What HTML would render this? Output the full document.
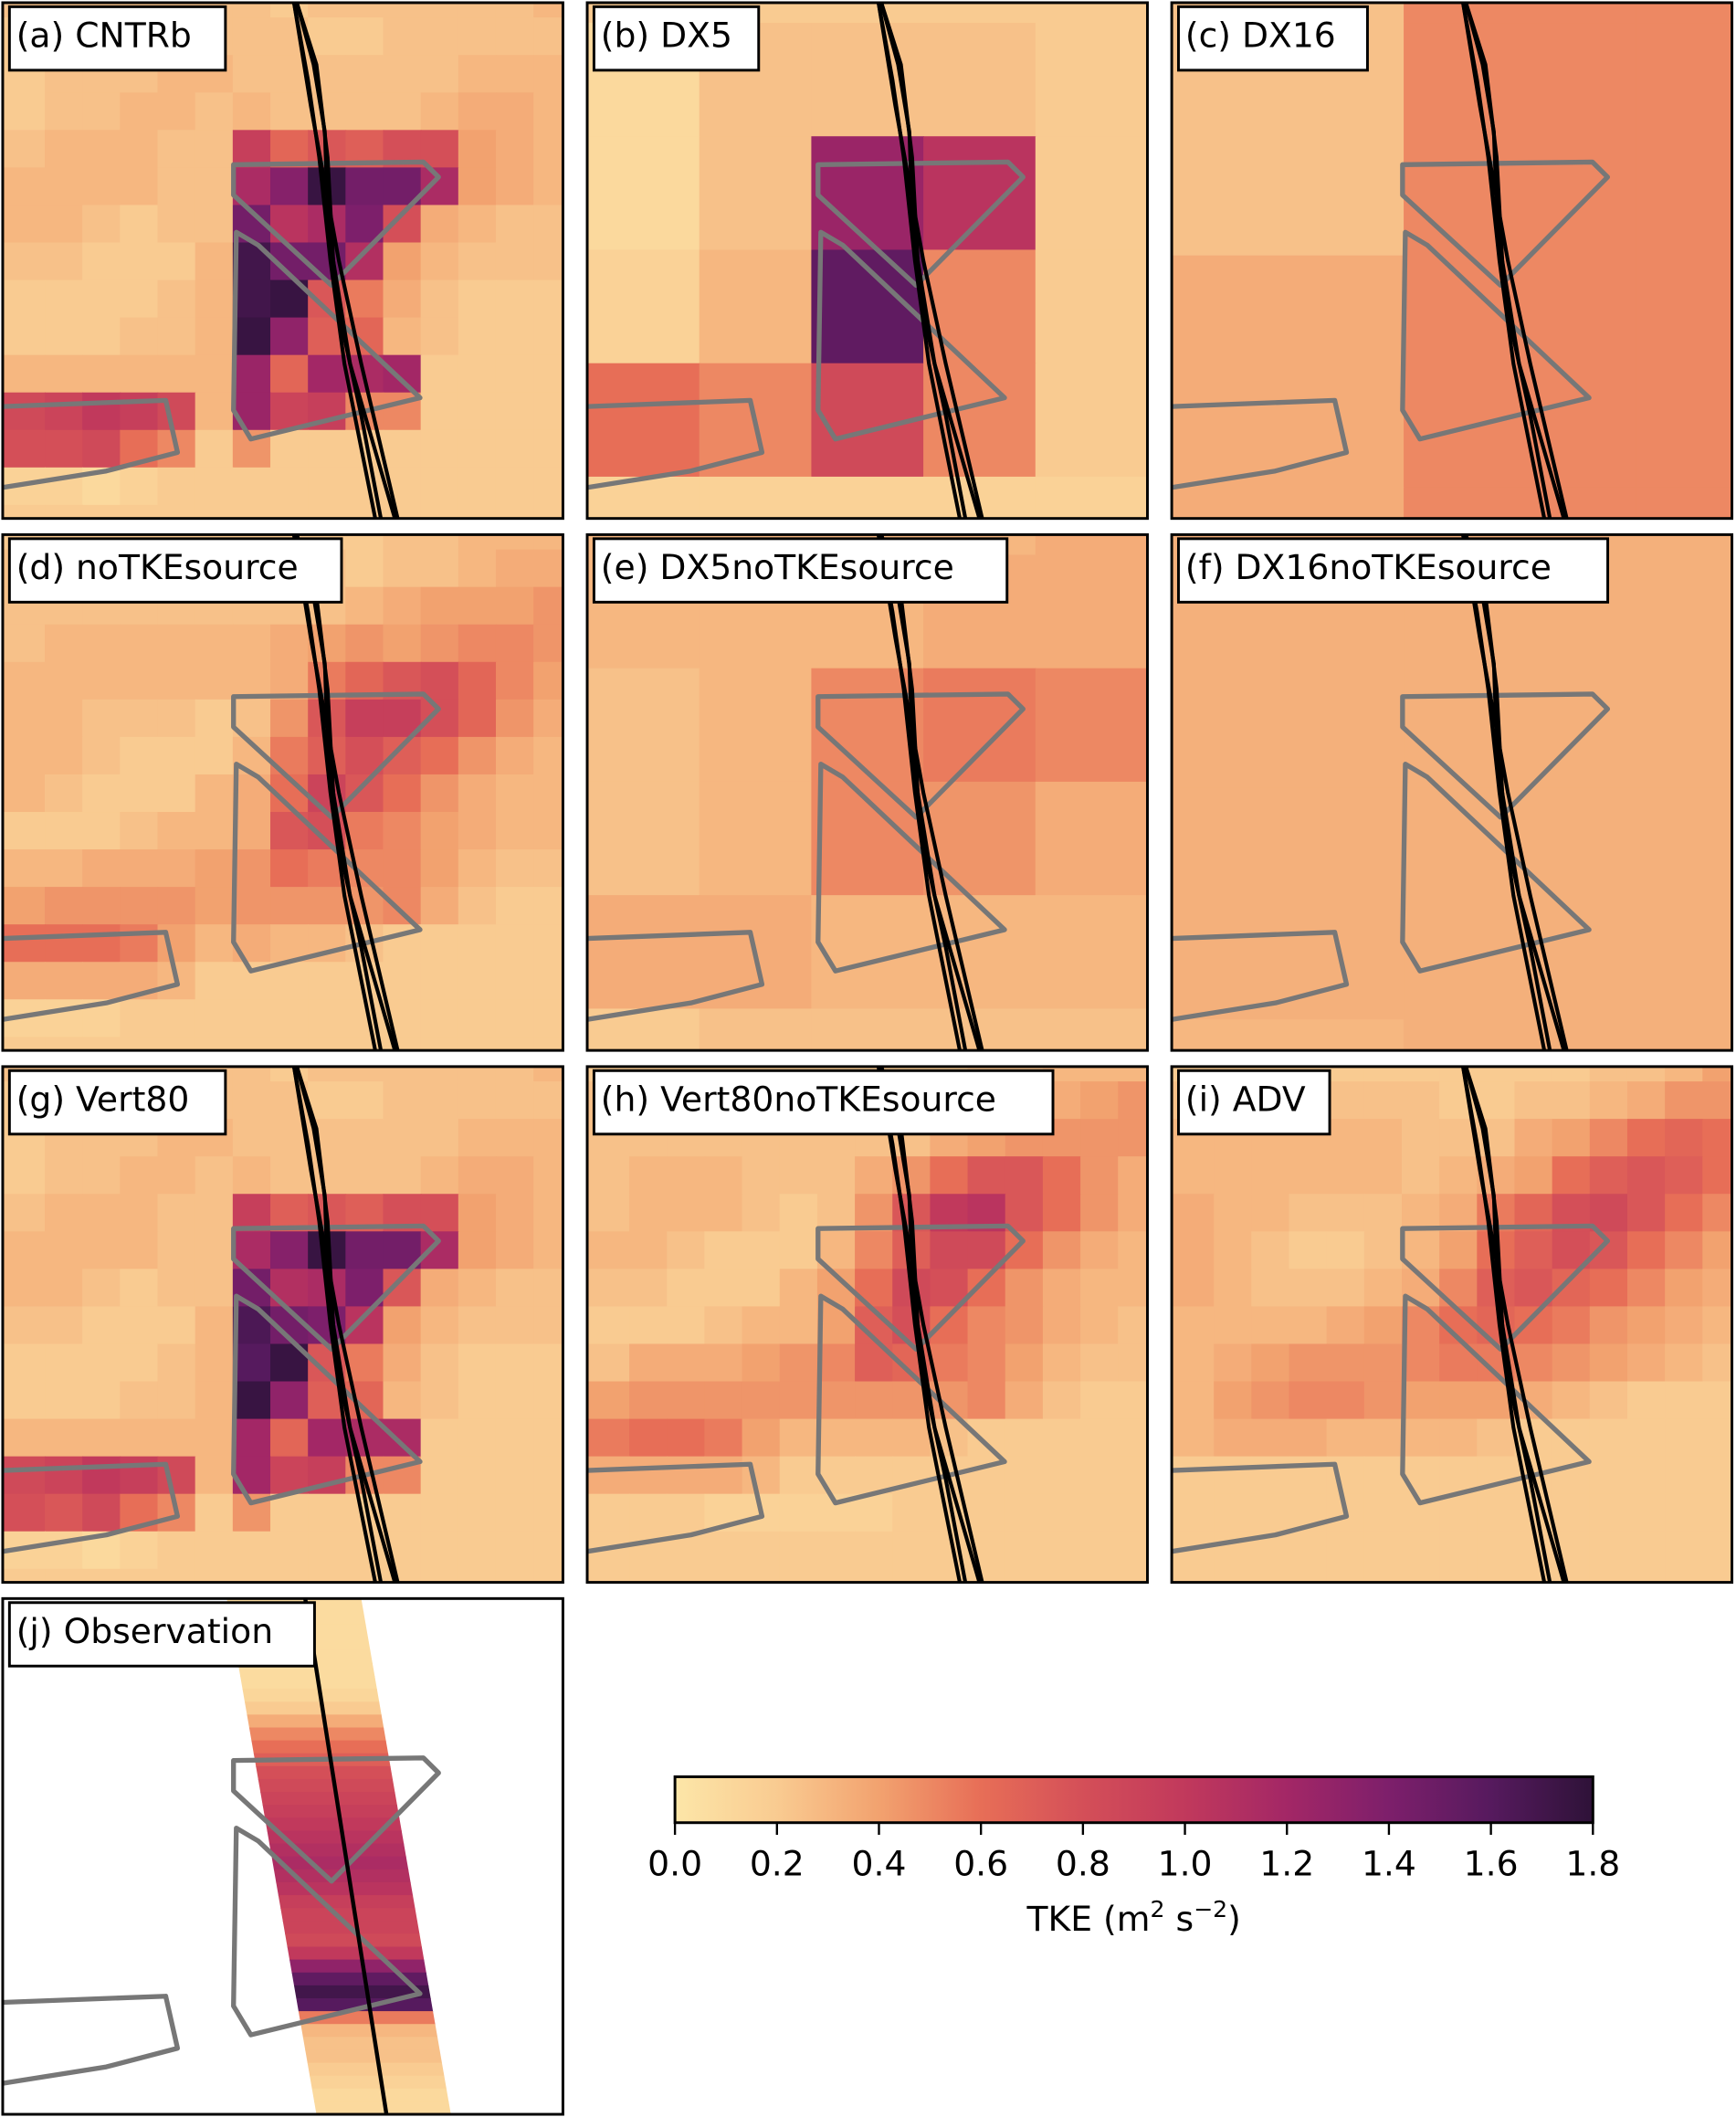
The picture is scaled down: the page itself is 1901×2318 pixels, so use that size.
<!DOCTYPE html>
<html><head><meta charset="utf-8">
<style>
html,body{margin:0;padding:0;background:#fff;}
svg{display:block;}
text{font-family:"DejaVu Sans","Liberation Sans",sans-serif;}
</style></head>
<body>
<svg id="fig" xmlns="http://www.w3.org/2000/svg" width="1901" height="2318" viewBox="0 0 1286 1568" preserveAspectRatio="none">
<defs id="defs"></defs>
<g id="panels"></g>
<g id="cbar"></g>
</svg>
<script>
// colormap
const cmapVals = [0, 0.2, 0.4, 0.6, 0.8, 1.0, 1.2, 1.4, 1.6, 1.8];
const cmapColors = ["#fce6a8","#f9cb91","#f2a26f","#e76e57","#d44f58","#c1395c","#a32766","#7d1f6b","#561a5e","#2e1238"];
const cbarTicks = [0, 0.2, 0.4, 0.6, 0.8, 1.0, 1.2, 1.4, 1.6, 1.8];
const cbarTickLabels = ["0.0","0.2","0.4","0.6","0.8","1.0","1.2","1.4","1.6","1.8"];

// TKE grids (rows top->bottom)
const gridA = [
[.25,.25,.25,.25,.25,.25,.25,.2,.25,.25,.25,.25,.25,.25,.3],
[.2,.25,.25,.25,.3,.25,.25,.25,.2,.2,.25,.25,.25,.25,.25],
[.2,.25,.25,.25,.3,.3,.25,.25,.25,.25,.25,.25,.3,.3,.3],
[.2,.25,.25,.3,.3,.25,.3,.25,.25,.25,.25,.3,.35,.35,.3],
[.25,.3,.3,.3,.25,.25,.95,.65,.75,.7,.8,.8,.4,.35,.3],
[.3,.3,.3,.3,.25,.25,1.15,1.35,1.75,1.45,1.45,1.15,.4,.35,.3],
[.3,.3,.25,.2,.25,.25,1.45,1.05,1.15,1.4,.8,.35,.3,.25,.25],
[.25,.25,.2,.2,.2,.3,1.7,1.45,1.45,1.1,.4,.3,.25,.25,.25],
[.2,.2,.2,.2,.25,.3,1.7,1.75,.75,.55,.35,.25,.2,.2,.2],
[.2,.2,.2,.25,.25,.3,1.75,1.3,.7,.65,.3,.25,.2,.2,.2],
[.3,.3,.3,.3,.3,.3,1.25,.65,1.2,1.15,1.2,.2,.2,.2,.2],
[.85,.9,1.0,.95,.85,.3,1.25,.9,.95,.5,.5,.2,.2,.2,.2],
[.8,.8,.85,.6,.5,.2,.45,.2,.2,.2,.2,.2,.2,.2,.2],
[.15,.15,.1,.15,.2,.2,.2,.2,.2,.2,.2,.2,.2,.2,.2],
[.2,.2,.2,.2,.2,.2,.2,.2,.2,.2,.2,.2,.2,.2,.2]];
const gridG = [
[.25,.25,.25,.25,.25,.25,.25,.2,.25,.25,.25,.25,.25,.25,.3],
[.2,.25,.25,.25,.3,.25,.25,.25,.2,.2,.25,.25,.25,.25,.25],
[.2,.25,.25,.25,.3,.3,.25,.25,.25,.25,.25,.25,.3,.3,.3],
[.2,.25,.25,.3,.3,.25,.3,.25,.25,.25,.25,.3,.35,.35,.3],
[.25,.3,.3,.3,.25,.25,.95,.7,.75,.7,.8,.8,.4,.35,.3],
[.3,.3,.3,.3,.25,.25,1.15,1.35,1.75,1.45,1.45,1.15,.4,.35,.3],
[.3,.3,.25,.2,.25,.25,1.45,1.1,1.15,1.4,.75,.35,.3,.25,.25],
[.25,.25,.2,.2,.2,.3,1.65,1.45,1.4,1.05,.4,.3,.25,.25,.25],
[.2,.2,.2,.2,.25,.3,1.6,1.75,.75,.55,.35,.25,.2,.2,.2],
[.2,.2,.2,.25,.25,.3,1.75,1.3,.7,.65,.3,.25,.2,.2,.2],
[.3,.3,.3,.3,.3,.3,1.2,.65,1.2,1.15,1.15,.2,.2,.2,.2],
[.85,.9,1.0,.95,.85,.3,1.2,.9,.95,.5,.5,.2,.2,.2,.2],
[.8,.75,.85,.6,.5,.2,.45,.2,.2,.2,.2,.2,.2,.2,.2],
[.15,.15,.1,.15,.2,.2,.2,.2,.2,.2,.2,.2,.2,.2,.2],
[.2,.2,.2,.2,.2,.2,.2,.2,.2,.2,.2,.2,.2,.2,.2]];
const gridD = [
[.2,.2,.2,.2,.2,.2,.2,.2,.2,.2,.25,.25,.3,.3,.3],
[.25,.2,.2,.2,.2,.2,.2,.25,.25,.2,.25,.25,.3,.35,.35],
[.25,.25,.25,.25,.25,.25,.25,.25,.25,.3,.35,.4,.4,.4,.45],
[.25,.3,.3,.3,.3,.3,.3,.35,.4,.45,.4,.45,.5,.5,.45],
[.3,.3,.3,.3,.3,.3,.3,.35,.55,.65,.75,.8,.65,.5,.4],
[.3,.3,.25,.25,.25,.2,.25,.45,.75,.95,.95,.8,.65,.45,.35],
[.3,.3,.25,.2,.2,.2,.3,.55,.7,.8,.7,.6,.45,.35,.3],
[.3,.25,.2,.2,.2,.3,.35,.6,.9,.75,.6,.45,.35,.3,.3],
[.2,.2,.2,.25,.3,.3,.35,.75,.8,.55,.5,.4,.35,.3,.3],
[.3,.3,.35,.35,.35,.4,.45,.6,.55,.5,.5,.4,.3,.25,.25],
[.4,.45,.45,.45,.45,.4,.45,.45,.45,.45,.5,.35,.25,.2,.2],
[.6,.6,.6,.55,.4,.3,.35,.3,.3,.25,.2,.2,.2,.2,.2],
[.35,.35,.35,.35,.3,.2,.2,.2,.2,.2,.2,.2,.2,.2,.2],
[.15,.15,.15,.2,.2,.2,.2,.2,.2,.2,.2,.2,.2,.2,.2],
[.2,.2,.2,.2,.2,.2,.2,.2,.2,.2,.2,.2,.2,.2,.2]];
const gridH = [
[.2,.2,.2,.2,.2,.2,.2,.2,.2,.2,.25,.25,.3,.3,.3],
[.25,.25,.25,.25,.2,.2,.25,.25,.25,.25,.3,.3,.35,.4,.45],
[.25,.25,.25,.25,.25,.25,.25,.25,.25,.35,.4,.45,.45,.45,.45],
[.25,.3,.3,.3,.25,.25,.25,.35,.45,.6,.75,.75,.6,.45,.35],
[.25,.3,.3,.3,.25,.2,.25,.45,.75,1.0,1.05,.75,.6,.45,.35],
[.3,.3,.25,.2,.2,.2,.3,.5,.7,.85,.85,.6,.45,.35,.3],
[.25,.25,.2,.2,.2,.3,.4,.6,.85,.8,.6,.45,.35,.3,.3],
[.2,.2,.2,.25,.3,.3,.4,.7,.8,.6,.5,.45,.35,.3,.25],
[.25,.35,.35,.35,.4,.45,.5,.7,.65,.55,.5,.4,.3,.25,.25],
[.4,.45,.45,.45,.45,.45,.45,.45,.45,.45,.5,.35,.25,.2,.2],
[.55,.6,.6,.55,.4,.3,.3,.3,.3,.25,.2,.2,.2,.2,.2],
[.35,.35,.35,.35,.3,.2,.2,.2,.2,.2,.2,.2,.2,.2,.2],
[.2,.2,.2,.15,.15,.15,.15,.15,.2,.2,.2,.2,.2,.2,.2],
[.2,.2,.2,.2,.2,.2,.2,.2,.2,.2,.2,.2,.2,.2,.2],
[.2,.2,.2,.2,.2,.2,.2,.2,.2,.2,.2,.2,.2,.2,.2]];
const gridI = [
[.2,.2,.2,.2,.2,.2,.2,.2,.2,.2,.2,.25,.25,.3,.4],
[.25,.25,.25,.25,.25,.25,.25,.2,.2,.25,.25,.3,.35,.45,.45],
[.3,.3,.3,.3,.3,.3,.25,.25,.25,.35,.4,.5,.6,.65,.6],
[.3,.3,.3,.3,.3,.3,.25,.3,.35,.4,.6,.7,.75,.7,.6],
[.35,.3,.3,.25,.25,.25,.3,.35,.55,.65,.8,.85,.75,.6,.5],
[.35,.3,.25,.2,.2,.25,.3,.4,.6,.7,.8,.75,.6,.5,.4],
[.35,.3,.25,.25,.25,.3,.35,.5,.7,.75,.65,.6,.5,.4,.35],
[.3,.3,.3,.3,.35,.4,.5,.6,.65,.6,.55,.45,.4,.35,.3],
[.3,.35,.4,.45,.45,.45,.5,.55,.55,.5,.45,.4,.35,.3,.25],
[.3,.4,.45,.5,.5,.45,.4,.4,.4,.35,.3,.25,.2,.2,.2],
[.3,.35,.35,.35,.3,.3,.3,.3,.25,.2,.2,.2,.2,.2,.2],
[.2,.2,.2,.2,.2,.2,.2,.2,.2,.2,.2,.2,.2,.2,.2],
[.2,.2,.2,.2,.2,.2,.2,.2,.2,.2,.2,.2,.2,.2,.2],
[.2,.2,.2,.2,.2,.2,.2,.2,.2,.2,.2,.2,.2,.2,.2],
[.2,.2,.2,.2,.2,.2,.2,.2,.2,.2,.2,.2,.2,.2,.2]];
const gridB = [
[.2,.2,.2,.2,.2],
[.1,.25,.25,.25,.2],
[.1,.25,1.25,1.05,.2],
[.15,.3,1.55,.5,.2],
[.6,.5,.85,.5,.2],
[.15,.15,.15,.15,.15]];
const gridE = [
[.3,.3,.3,.3,.35],
[.3,.3,.3,.35,.35],
[.25,.3,.5,.55,.5],
[.25,.3,.5,.45,.35],
[.35,.35,.3,.3,.3],
[.2,.25,.25,.25,.25]];
const gridC = [
[.25,.5,.5],
[.25,.5,.5],
[.35,.5,.5],
[.35,.5,.5]];
const gridF = [
[.33,.33,.33],
[.33,.33,.33],
[.33,.33,.33],
[.3,.33,.33]];
// observation transect values (top -> bottom stripes)
const obsVals = [.08,.08,.08,.08,.08,.08,.08,.12,.2,.35,.5,.6,.7,.8,.85,.9,.95,1.0,1.05,1.1,1.15,1.1,1.05,.95,.9,.9,.85,1.0,1.3,1.55,1.7,1.6,.55,.3,.25,.25,.2,.15,.1,.1];

const NS = "http://www.w3.org/2000/svg";
const PW = 415, PH = 382;
function hex(c){return [parseInt(c.slice(1,3),16),parseInt(c.slice(3,5),16),parseInt(c.slice(5,7),16)];}
function color(v){
  v=Math.max(cmapVals[0],Math.min(cmapVals[cmapVals.length-1],v));
  for(let i=0;i<cmapVals.length-1;i++){
    if(v<=cmapVals[i+1]){
      const t=(v-cmapVals[i])/(cmapVals[i+1]-cmapVals[i]);
      const a=hex(cmapColors[i]),b=hex(cmapColors[i+1]);
      return "rgb("+a.map((x,k)=>Math.round(x+(b[k]-x)*t)).join(",")+")";
    }
  }
  return cmapColors[cmapColors.length-1];
}
function el(tag,attrs,parent){const e=document.createElementNS(NS,tag);for(const k in attrs)e.setAttribute(k,attrs[k]);if(parent)parent.appendChild(e);return e;}

const geom = {
  fine:{x0:0.008,dx:0.0671,y0:-0.044,dy:0.0727},
  c5:{x0:0,dx:0.2,y0:-0.181,dy:0.22},
  c16:{x0:0,dx:0.414,y0:-0.41,dy:0.45}
};
const poly1=[[.412,.314],[.751,.309],[.778,.338],[.587,.548],[.412,.373]];
const poly2=[[.417,.445],[.456,.470],[.745,.766],[.443,.846],[.412,.790]];
const poly3=[[0,.783],[.291,.771],[.312,.872],[.185,.908],[0,.940]];
const roads=[
 [[.520,0],[.545,.15],[.565,.3],[.585,.5],[.61,.7],[.665,1]],
 [[.525,0],[.555,.12],[.575,.25],[.58,.4],[.6,.6],[.64,.8],[.675,1]],
 [[.525,0],[.56,.12],[.58,.3],[.59,.5],[.62,.7],[.70,1]],
 [[.52,0],[.55,.2],[.575,.35],[.6,.5],[.64,.7],[.705,1]]];

const panels=[
 {id:"a",x:2,y:2,label:"(a) CNTRb",w:160,grid:gridA,g:"fine"},
 {id:"b",x:435,y:2,label:"(b) DX5",w:122,grid:gridB,g:"c5"},
 {id:"c",x:868,y:2,label:"(c) DX16",w:140,grid:gridC,g:"c16"},
 {id:"d",x:2,y:396,label:"(d) noTKEsource",w:246,grid:gridD,g:"fine"},
 {id:"e",x:435,y:396,label:"(e) DX5noTKEsource",w:306,grid:gridE,g:"c5"},
 {id:"f",x:868,y:396,label:"(f) DX16noTKEsource",w:318,grid:gridF,g:"c16"},
 {id:"g",x:2,y:790,label:"(g) Vert80",w:160,grid:gridG,g:"fine"},
 {id:"h",x:435,y:790,label:"(h) Vert80noTKEsource",w:340,grid:gridH,g:"fine"},
 {id:"i",x:868,y:790,label:"(i) ADV",w:112,grid:gridI,g:"fine"},
 {id:"j",x:2,y:1184,label:"(j) Observation",w:226,grid:null,g:null}
];
const defs=document.getElementById("defs");
const root=document.getElementById("panels");
const sx=(p,f)=>p.x+f*PW, sy=(p,f)=>p.y+f*PH;

panels.forEach(p=>{
  const cp=el("clipPath",{id:"clip-"+p.id},defs);
  el("rect",{x:p.x,y:p.y,width:PW,height:PH},cp);
  const g=el("g",{},root);
  
  
  const hm=el("g",{"clip-path":"url(#clip-"+p.id+")"},g);
  
  
  el("rect",{x:p.x,y:p.y,width:PW,height:PH,fill:"#fff"},hm);
  if(p.grid){
    const G=geom[p.g];
    p.grid.forEach((row,r)=>row.forEach((v,c)=>{
      let fx0=G.x0+G.dx*c, fx1=fx0+G.dx;
      if(c===0) fx0=0;
      const fy0=G.y0+G.dy*r, fy1=fy0+G.dy;
      const rc=el("rect",{x:sx(p,fx0),y:sy(p,fy0),width:(fx1-fx0)*PW+0.6,height:(fy1-fy0)*PH+0.6,fill:color(v)},hm);
      
      
    }));
  } else {
    const bc=el("clipPath",{id:"band-clip"},defs);
    el("polygon",{points:[[.40,0],[.64,0],[.80,1],[.56,1]].map(q=>sx(p,q[0])+","+sy(p,q[1])).join(" ")},bc);
    const bg=el("g",{"clip-path":"url(#band-clip)"},hm);
    
    
    const n=obsVals.length;
    obsVals.forEach((v,i)=>{
      const s=el("rect",{x:p.x,y:sy(p,i/n),width:PW,height:PH/n+0.6,fill:color(v)},bg);
      
      
    });
  }
  const ov=el("g",{"clip-path":"url(#clip-"+p.id+")"},g);
  [poly1,poly2].forEach((pl,k)=>{
    const e=el("polygon",{points:pl.map(q=>sx(p,q[0])+","+sy(p,q[1])).join(" "),fill:"none",stroke:"#777",
      "stroke-width":3.6,"stroke-linejoin":"round"},ov);
    
    
  });
  const e3=el("polyline",{points:poly3.map(q=>sx(p,q[0])+","+sy(p,q[1])).join(" "),fill:"none",stroke:"#777","stroke-width":3.6,"stroke-linejoin":"round"},ov);
  
  
  if(p.grid){
    roads.forEach(rd=>{
      const l=el("polyline",{points:rd.map(q=>sx(p,q[0])+","+sy(p,q[1])).join(" "),fill:"none",stroke:"#000","stroke-width":2.8},ov);
      
      
    });
  } else {
    const l=el("line",{x1:sx(p,.54),y1:sy(p,0),x2:sx(p,.685),y2:sy(p,1),stroke:"#000","stroke-width":3},ov);
    
    
  }
  const fr=el("rect",{x:p.x,y:p.y,width:PW,height:PH,fill:"none",stroke:"#000","stroke-width":2},g);
  
  
  const lb=el("rect",{x:p.x+5,y:p.y+3,width:p.w,height:47,fill:"#fff",stroke:"#000","stroke-width":2},g);
  
  
  const t=el("text",{x:p.x+10,y:p.y+33,"font-size":25.5,fill:"#000"},g);
  t.textContent=p.label;
  
  
});

// colorbar
const cb=document.getElementById("cbar");
const CX0=500,CX1=1180,CY=1316,CH=34;
const cbx=v=>CX0+(v-cmapVals[0])/(cmapVals[cmapVals.length-1]-cmapVals[0])*(CX1-CX0);
const lg=el("linearGradient",{id:"cgrad",x1:0,x2:1,y1:0,y2:0},defs);
cmapVals.forEach((v,i)=>el("stop",{offset:(v/1.8),"stop-color":cmapColors[i]},lg));
const cr=el("rect",{x:CX0,y:CY,width:CX1-CX0,height:CH,fill:"url(#cgrad)",stroke:"#000","stroke-width":2},cb);


cbarTicks.forEach((v,i)=>{
  const tk=el("line",{x1:cbx(v),x2:cbx(v),y1:CY+CH,y2:CY+CH+9,stroke:"#000","stroke-width":1.6},cb);
  
  
  const tl=el("text",{x:cbx(v),y:CY+CH+39,"font-size":25.5,"text-anchor":"middle"},cb);
  tl.textContent=cbarTickLabels[i];
  
  
});
const ct=el("text",{x:840,y:1430,"font-size":25.5,"text-anchor":"middle"},cb);
ct.innerHTML='TKE (m<tspan dy="-10" font-size="17">2</tspan><tspan dy="10"> s</tspan><tspan dy="-10" font-size="17">−2</tspan><tspan dy="10">)</tspan>';


</script>
</body></html>
